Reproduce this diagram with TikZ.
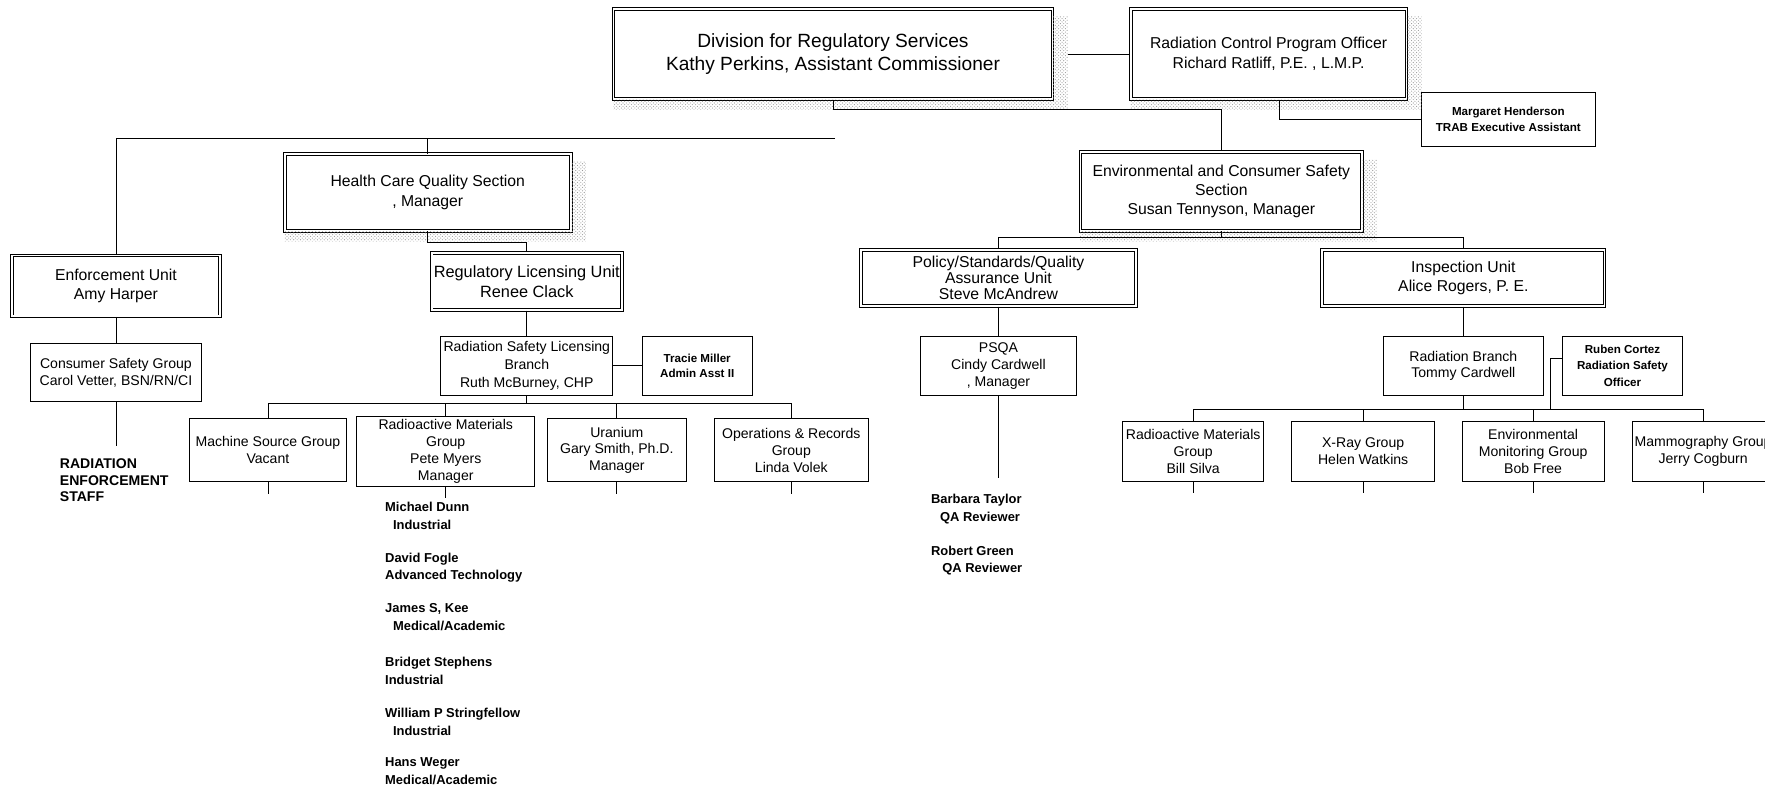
\documentclass[tikz,border=0pt]{standalone}
\usepackage{fontspec}
\setmainfont{Liberation Sans}
\usetikzlibrary{positioning,patterns}

\begin{document}
\begin{tikzpicture}[x=1pt,y=-1pt,
  every node/.style={align=center,inner sep=1pt},
  box/.style={draw,fill=white,line width=.9pt,font=\fontsize{12.5}{15}\selectfont},
  dbox/.style={box,double,double distance=1.5pt,line width=.85pt,font=\fontsize{14}{17.5}\selectfont},
  asst/.style={box,font=\bfseries\fontsize{10.3}{14}\selectfont},
  names/.style={align=left,anchor=north west,font=\bfseries\fontsize{11.5}{15.5}\selectfont},
  stip/.style={pattern=crosshatch dots,pattern color=black!40},
  conn/.style={line width=.7pt}]
\useasboundingbox (0,0) rectangle (1568,702);
\fill[white] (0,0) rectangle (1568,702);
\clip (0,0) rectangle (1568,702);

\node[dbox,minimum width=390pt,minimum height=80pt,font=\fontsize{17}{21}\selectfont] (div) at (740,48)
      {Division for Regulatory Services\\Kathy Perkins, Assistant Commissioner};
\node[dbox,minimum width=245pt,minimum height=80pt] (rcpo) at (1127,48)
      {Radiation Control Program Officer\\Richard Ratliff, P.E. , L.M.P.};
\node[asst,minimum width=155pt,minimum height=48pt] (marg) at (1340,106)
      {Margaret Henderson\\TRAB Executive Assistant};
\node[dbox,minimum width=254pt,minimum height=68pt] (hcq) at (380,171)
      {Health Care Quality Section\\, Manager};
\node[dbox,minimum width=250pt,minimum height=70pt,font=\fontsize{14}{16.5}\selectfont] (env) at (1085,170)
      {Environmental and Consumer Safety\\Section\\Susan Tennyson, Manager};
\node[dbox,minimum width=185pt,minimum height=54pt] (enf) at (103,254) {Enforcement Unit\\Amy Harper};
\node[dbox,minimum width=169pt,minimum height=51pt,font=\fontsize{14.5}{17.5}\selectfont] (rlu) at (468,250)
      {Regulatory Licensing Unit\\Renee Clack};
\node[dbox,minimum width=244pt,minimum height=50pt,font=\fontsize{14}{14.5}\selectfont] (psu) at (887,247)
      {Policy/Standards/Quality\\Assurance Unit\\Steve McAndrew};
\node[dbox,minimum width=251pt,minimum height=50pt] (insp) at (1300,247) {Inspection Unit\\Alice Rogers, P. E.};

\node[box,minimum width=152pt,minimum height=52pt] (csg) at (103,331) {Consumer Safety Group\\Carol Vetter, BSN/RN/CI};
\node[box,minimum width=153pt,minimum height=53pt,font=\fontsize{12.5}{16}\selectfont] (rslb) at (468,325)
      {Radiation Safety Licensing\\Branch\\Ruth McBurney, CHP};
\node[asst,minimum width=98pt,minimum height=53pt] (tracie) [right=25pt of rslb] {Tracie Miller\\Admin Asst II};
\node[box,minimum width=138pt,minimum height=52pt] (psqa) at (887,325) {PSQA\\Cindy Cardwell\\, Manager};
\node[box,minimum width=142pt,minimum height=52pt] (rb) at (1300,325) {Radiation Branch\\Tommy Cardwell};
\node[asst,minimum width=107pt,minimum height=52pt,font=\bfseries\fontsize{10.3}{14.5}\selectfont] (ruben)
      [right=16pt of rb] {Ruben Cortez\\Radiation Safety\\Officer};

\node[box,minimum width=139pt,minimum height=56pt] (msg) at (238,400) {Machine Source Group\\Vacant};
\node[box,minimum width=158pt,minimum height=62pt] (rmg) at (396,401) {Radioactive Materials\\Group\\Pete Myers\\Manager};
\node[box,minimum width=124pt,minimum height=56pt] (uran) at (548,400) {Uranium\\Gary Smith, Ph.D.\\Manager};
\node[box,minimum width=137pt,minimum height=56pt] (ops) at (703,400) {Operations \& Records\\Group\\Linda Volek};
\node[box,minimum width=125pt,minimum height=53pt] (rmg2) at (1060,401) {Radioactive Materials\\Group\\Bill Silva};
\node[box,minimum width=127pt,minimum height=53pt] (xray) at (1211,401) {X-Ray Group\\Helen Watkins};
\node[box,minimum width=126pt,minimum height=53pt] (emg) at (1362,401) {Environmental\\Monitoring Group\\Bob Free};
\node[box,minimum width=126pt,minimum height=53pt] (mammo) at (1513,401) {Mammography Group\\Jerry Cogburn};

\node[names,font=\bfseries\fontsize{12.5}{15}\selectfont] (staff) at (52,406) {RADIATION\\ENFORCEMENT\\STAFF};
\node[names] (dunn) at (341,445) {Michael Dunn\\\hspace*{7pt}Industrial};
\node[names] (fogle) at (341,490) {David Fogle\\Advanced Technology};
\node[names] (kee) at (341,535) {James S, Kee\\\hspace*{7pt}Medical/Academic};
\node[names] (stephens) at (341,583) {Bridget Stephens\\Industrial};
\node[names] (stringfellow) at (341,628) {William P Stringfellow\\\hspace*{7pt}Industrial};
\node[names] (weger) at (341,672) {Hans Weger\\Medical/Academic};
\node[names] (taylor) at (826,438) {Barbara Taylor\\\hspace*{8pt}QA Reviewer};
\node[names] (green) at (826,484) {Robert Green\\\hspace*{10pt}QA Reviewer};

\foreach \n in {div,rcpo,hcq,env}
  \fill[stip] ([yshift=-7pt]\n.north east) rectangle ([xshift=13pt,yshift=-9pt]\n.south east)
              (\n.south west) rectangle ([yshift=-9pt]\n.south east);

\draw[conn] ([xshift=13pt]div.east) -- (rcpo.west);
\draw[conn] ([xshift=10pt]rcpo.south) |- (marg.west);
\draw[conn] (div.south) -- ++(0,9) -| (env.north);
\coordinate (lbus) at (742,123);
\draw[conn] (lbus) -| (enf.north);
\draw[conn] (hcq.north) -- (hcq.north |- lbus);
\draw[conn] (hcq.south) -- ++(0,10) -| (rlu.north);
\draw[conn] (enf.south) -- (csg.north);
\coordinate (csgend) at (103,396);
\draw[conn] (csg.south) -- (csgend);
\draw[conn] (rlu.south) -- (rslb.north);
\draw[conn] (rslb.east) -- (tracie.west);
\coordinate (rsbus) at (468,358);
\draw[conn] (rslb.south) -- (rsbus);
\foreach \c in {msg,rmg,uran,ops} {
  \draw[conn] (rsbus) -| (\c.north);
  \draw[conn] (\c.south) -- ++(0,10);
}
\coordinate (ebus) at (1085,211);
\draw[conn] (env.south) -- (ebus);
\foreach \c in {psu,insp} \draw[conn] (ebus) -| (\c.north);
\draw[conn] (psu.south) -- (psqa.north);
\coordinate (psqaend) at (887,425);
\draw[conn] (psqa.south) -- (psqaend);
\draw[conn] (insp.south) -- (rb.north);
\coordinate (rbbus) at (1300,364);
\draw[conn] (rb.south) -- (rbbus);
\foreach \c in {rmg2,xray,emg,mammo} {
  \draw[conn] (rbbus) -| (\c.north);
  \draw[conn] (\c.south) -- ++(0,10);
}
\coordinate (rubbus) at (1377,364);
\draw[conn] ([yshift=7pt]ruben.west) -| (rubbus);
\end{tikzpicture}
\end{document}
